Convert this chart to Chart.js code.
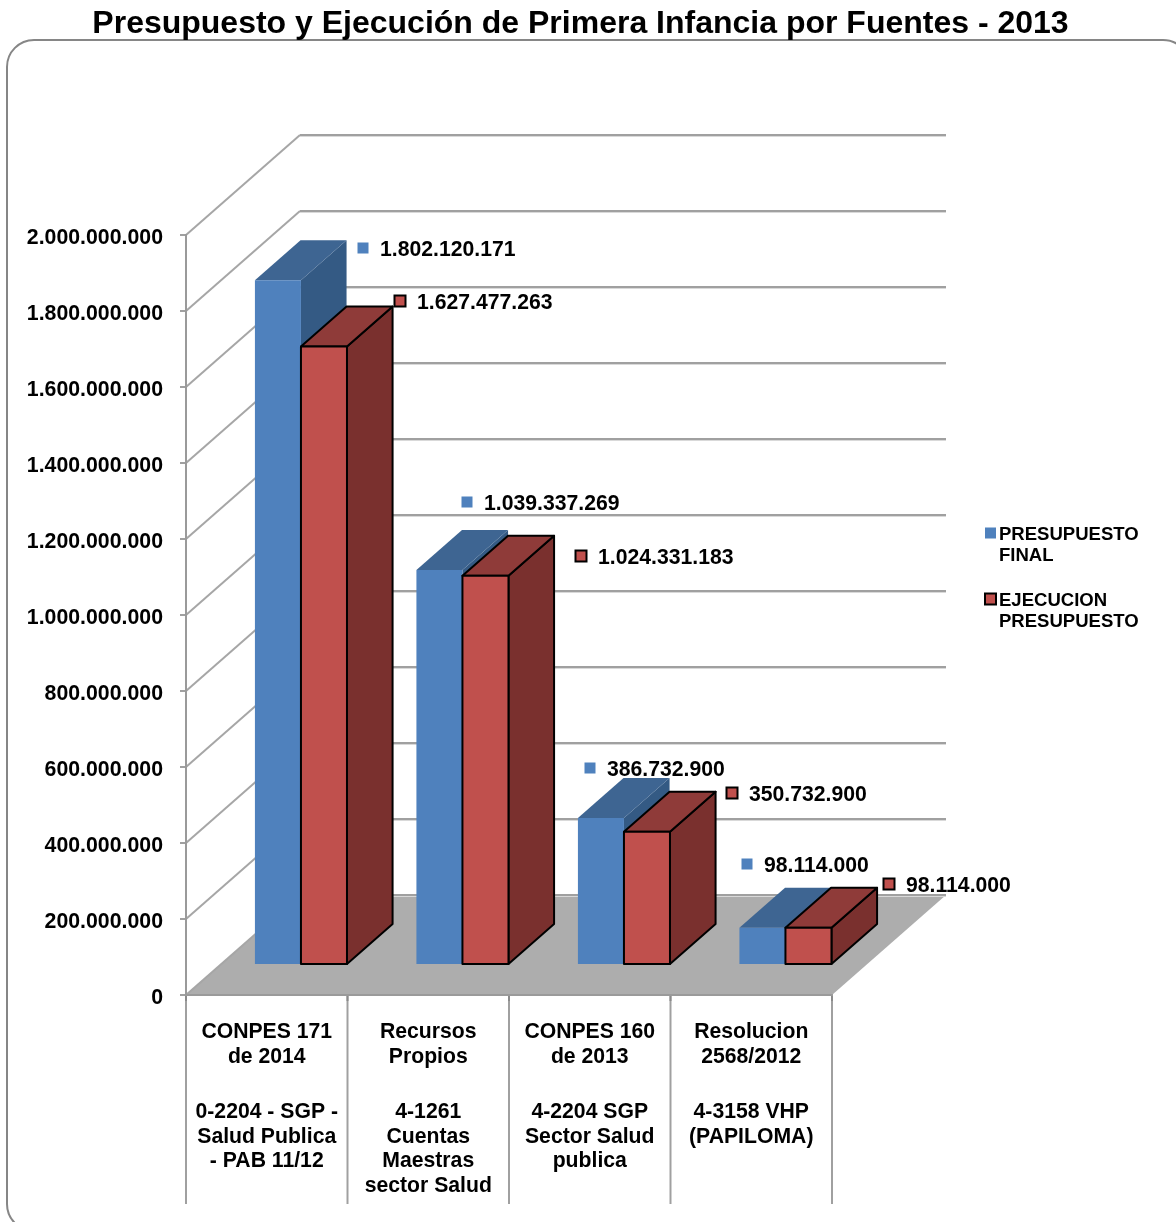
<!DOCTYPE html>
<html lang="es">
<head>
<meta charset="utf-8">
<title>Presupuesto y Ejecución de Primera Infancia por Fuentes - 2013</title>
<style>
  html, body { margin: 0; padding: 0; background: #fff; }
  canvas { display: block; }
</style>
<script src="https://cdn.jsdelivr.net/npm/chart.js@4"></script>
</head>
<body>
<canvas id="chart" width="1176" height="1222"></canvas>
<script>
// Source headings, upper label level
const fuentes = [
  ['CONPES 171', 'de 2014'],
  ['Recursos', 'Propios'],
  ['CONPES 160', 'de 2013'],
  ['Resolucion', '2568/2012']
];
// Budget items, lower label level
const rubros = [
  ['0-2204 - SGP -', 'Salud Publica', '- PAB 11/12'],
  ['4-1261', 'Cuentas', 'Maestras', 'sector Salud'],
  ['4-2204 SGP', 'Sector Salud', 'publica'],
  ['4-3158 VHP', '(PAPILOMA)']
];
const presupuestoFinal = [1802120171, 1039337269, 386732900, 98114000];
const ejecucion = [1627477263, 1024331183, 350732900, 98114000];
const leyendaPresupuesto = ['PRESUPUESTO', 'FINAL'];
const leyendaEjecucion = ['EJECUCION', 'PRESUPUESTO'];

// Hand-placed value labels: marker centre relative to the front top-right corner of each bar
const offsetsPresupuesto = [[62, -32], [5, -68], [-34, -50], [-38, -64]];
const offsetsEjecucion = [[53, -46], [73, -20], [62, -39], [58, -44]];

const FONT = '"Liberation Sans", Arial, sans-serif';
const DEPTH_X = 114, DEPTH_Y = 100;      // floor depth projected on screen
const BAR_FRONT = 0.3, BAR_BACK = 0.7;   // where bars sit within that depth
const formatDots = v => String(Math.round(v)).replace(/\B(?=(\d{3})+$)/g, '.');

function line(ctx, x1, y1, x2, y2, color, width) {
  ctx.beginPath();
  ctx.moveTo(x1, y1);
  ctx.lineTo(x2, y2);
  ctx.strokeStyle = color;
  ctx.lineWidth = width;
  ctx.stroke();
}

function face(ctx, pts, fill, stroke) {
  ctx.beginPath();
  pts.forEach((p, i) => (i ? ctx.lineTo(p[0], p[1]) : ctx.moveTo(p[0], p[1])));
  ctx.closePath();
  ctx.fillStyle = fill;
  ctx.fill();
  if (stroke) {
    ctx.lineJoin = 'round';
    ctx.strokeStyle = stroke;
    ctx.lineWidth = 2;
    ctx.stroke();
  }
}

// Frame, side wall, back wall and floor
const room = {
  id: 'room',
  beforeDraw(chart) {
    const { ctx, scales: { x, y } } = chart;
    ctx.save();
    ctx.beginPath();
    ctx.roundRect(7, 40, 1183, 1191, 27);
    ctx.strokeStyle = '#868686';
    ctx.lineWidth = 2;
    ctx.stroke();

    const left = x.left, right = x.right, base = y.getPixelForValue(0);
    face(ctx, [[left, base], [right, base], [right + DEPTH_X, base - DEPTH_Y], [left + DEPTH_X, base - DEPTH_Y]], '#adadad');
    y.ticks.forEach(t => {
      const py = y.getPixelForValue(t.value);
      line(ctx, left, py, left + DEPTH_X, py - DEPTH_Y, '#a6a6a6', 2);
      line(ctx, left + DEPTH_X, py - DEPTH_Y + 1.5, right + DEPTH_X, py - DEPTH_Y + 1.5, '#d9d9d9', 1);
      line(ctx, left + DEPTH_X, py - DEPTH_Y, right + DEPTH_X, py - DEPTH_Y, '#a0a0a0', 2);
    });

    // Column separators under the axis
    const step = (right - left) / fuentes.length;
    for (let i = 0; i <= fuentes.length; i++) {
      line(ctx, left + i * step, base, left + i * step, 1204, '#a0a0a0', 2);
      line(ctx, left + i * step, base, left + i * step, base + 6, '#8a8a8a', 2);
    }
    ctx.restore();
  }
};

// One dataset pushed back on the floor: side and top faces, then the library's front face
function drawBars(chart, index) {
  const { ctx } = chart;
  const ds = chart.data.datasets[index];
  const meta = chart.getDatasetMeta(index);
  const dx = DEPTH_X * (BAR_BACK - BAR_FRONT), dy = DEPTH_Y * (BAR_BACK - BAR_FRONT);
  ctx.save();
  ctx.translate(DEPTH_X * BAR_FRONT, -DEPTH_Y * BAR_FRONT);
  meta.data.forEach(b => {
    const l = b.x - b.width / 2, r = b.x + b.width / 2;
    face(ctx, [[r, b.y], [r + dx, b.y - dy], [r + dx, b.base - dy], [r, b.base]], ds.sideColor, ds.edgeColor);
    face(ctx, [[l, b.y], [l + dx, b.y - dy], [r + dx, b.y - dy], [r, b.y]], ds.topColor, ds.edgeColor);
  });
  meta.controller.draw();
  if (ds.edgeColor) {
    meta.data.forEach(b => {
      ctx.strokeStyle = ds.edgeColor;
      ctx.lineWidth = 2;
      ctx.strokeRect(b.x - b.width / 2, b.y, b.width, b.base - b.y);
    });
  }
  ctx.restore();
}

function marker(ctx, cx, cy, ds) {
  ctx.fillStyle = ds.backgroundColor;
  ctx.fillRect(cx - 5.5, cy - 5.5, 11, 11);
  if (ds.edgeColor) {
    ctx.strokeStyle = ds.edgeColor;
    ctx.lineWidth = 2;
    ctx.strokeRect(cx - 5.5, cy - 5.5, 11, 11);
  }
}

// Bars go back to front in dataset order, followed by value labels and the legend
const bars3d = {
  id: 'bars3d',
  beforeDatasetDraw() {
    return false;
  },
  afterDatasetsDraw(chart) {
    const { ctx } = chart;
    chart.data.datasets.forEach((ds, i) => drawBars(chart, i));
    ctx.save();
    ctx.textBaseline = 'middle';
    ctx.textAlign = 'left';
    chart.data.datasets.forEach((ds, i) => {
      chart.getDatasetMeta(i).data.forEach((b, j) => {
        const [ox, oy] = ds.labelOffsets[j];
        const cx = Math.round(b.x + b.width / 2 + DEPTH_X * BAR_FRONT + ox);
        const cy = Math.round(b.y - DEPTH_Y * BAR_FRONT + oy);
        marker(ctx, cx, cy, ds);
        ctx.fillStyle = '#000';
        ctx.font = 'bold 21.2px ' + FONT;
        ctx.fillText(formatDots(ds.data[j]), cx + 17, cy + 2.5);
      });
    });
    ctx.font = 'bold 18.55px ' + FONT;
    chart.data.datasets.forEach((ds, i) => {
      const top = 535 + i * 66;
      marker(ctx, 990.5, top - 2, ds);
      ds.legendLines.forEach((txt, k) => {
        ctx.fillStyle = '#000';
        ctx.fillText(txt, 999, top + k * 21);
      });
    });
    ctx.restore();
  }
};

const tickFont = { family: FONT, size: 21.2, weight: 'bold', lineHeight: 1.155 };

new Chart(document.getElementById('chart'), {
  type: 'bar',
  data: {
    labels: fuentes,
    datasets: [
      {
        label: leyendaPresupuesto.join(' '),
        data: presupuestoFinal,
        backgroundColor: '#4f81bd',
        topColor: '#3e6592',
        sideColor: '#345a84',
        legendLines: leyendaPresupuesto,
        labelOffsets: offsetsPresupuesto,
        borderWidth: 0
      },
      {
        label: leyendaEjecucion.join(' '),
        data: ejecucion,
        backgroundColor: '#c0504d',
        topColor: '#8f3b39',
        sideColor: '#7a302e',
        edgeColor: '#000',
        legendLines: leyendaEjecucion,
        labelOffsets: offsetsEjecucion,
        borderWidth: 0
      }
    ]
  },
  options: {
    responsive: false,
    animation: false,
    events: [],
    categoryPercentage: 0.57,
    barPercentage: 1,
    layout: { padding: { left: 0, right: 15, top: 0, bottom: 0 } },
    plugins: {
      legend: { display: false },
      tooltip: { enabled: false },
      title: {
        display: true,
        text: 'Presupuesto y Ejecución de Primera Infancia por Fuentes - 2013',
        color: '#000',
        font: { family: FONT, size: 32, weight: 'bold', lineHeight: 1.2 },
        padding: { top: 5, bottom: 191.6 }
      }
    },
    scales: {
      x: {
        type: 'category',
        grid: { display: false },
        border: { display: true, color: '#9a9a9a', width: 2 },
        ticks: { color: '#000', font: tickFont, padding: 17, maxRotation: 0, autoSkip: false },
        afterFit(s) { s.height = 90; }
      },
      x2: {
        type: 'category',
        position: 'bottom',
        labels: rubros,
        offset: true,
        weight: 1,
        grid: { display: false },
        border: { display: false },
        ticks: { color: '#000', font: tickFont, padding: 7, maxRotation: 0, autoSkip: false },
        afterFit(s) { s.height = 137; }
      },
      y: {
        min: 0,
        max: 2000000000,
        grid: { drawOnChartArea: false, color: '#a0a0a0', tickLength: 6, lineWidth: 2 },
        border: { display: true, color: '#9a9a9a', width: 2 },
        ticks: {
          stepSize: 200000000,
          color: '#000',
          font: { family: FONT, size: 21.3, weight: 'bold' },
          padding: 17,
          labelOffset: 3.5,
          callback: formatDots
        },
        afterFit(s) { s.width = 186; }
      },
      // Empty gutter that keeps the legend column clear
      gutter: {
        type: 'linear',
        position: 'right',
        grid: { display: false },
        border: { display: false },
        ticks: { display: false },
        afterFit(s) { s.width = 329; }
      }
    }
  },
  plugins: [room, bars3d]
});
</script>
</body>
</html>
